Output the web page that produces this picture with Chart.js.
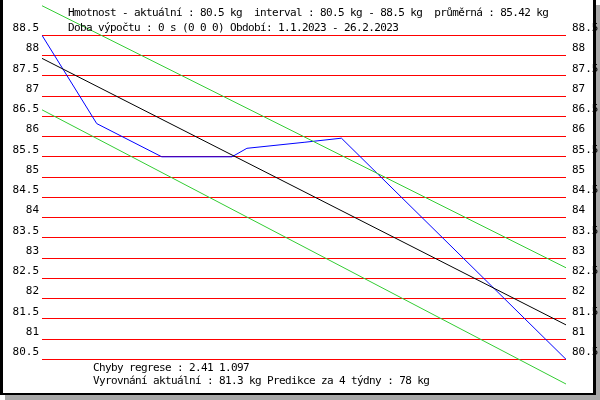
<!DOCTYPE html>
<html lang="cs">
<head>
  <meta charset="UTF-8">
  <title>Hmotnost</title>
  <script src="https://cdn.jsdelivr.net/npm/chart.js"></script>
  <style>
    body { margin: 0; background: #fff; }
    #wrap { position: relative; width: 600px; height: 400px; overflow: hidden; }
    #shadow { position: absolute; left: 5px; top: 5px; width: 595px; height: 395px; background: #a8a8a8; }
    #paper { position: absolute; left: 0; top: 0; width: 596px; height: 395px; background: #fff; }
    #frame {
      position: absolute; left: 0; top: 0; width: 596px; height: 395px; box-sizing: border-box;
      border-left: 3px solid #000; border-right: 3px solid #000; border-bottom: 2px solid #000;
      pointer-events: none;
    }
    canvas { position: absolute; left: 0; top: 0; }
    .txt {
      position: absolute; white-space: pre; color: #000;
      font: 11px 'DejaVu Sans Mono', monospace; letter-spacing: -0.62px; line-height: 13px;
    }
  </style>
</head>
<body>
  <div id="wrap">
    <div id="shadow"></div>
    <div id="paper"></div>
    <canvas id="chart" width="600" height="400"></canvas>
    <div id="frame"></div>
    <div class="txt" style="left:68px; top:6px">Hmotnost - aktuální : 80.5 kg  interval : 80.5 kg - 88.5 kg  průměrná : 85.42 kg</div>
    <div class="txt" style="left:68px; top:21px">Doba výpočtu : 0 s (0 0 0) Období: 1.1.2023 - 26.2.2023</div>
    <div class="txt" style="left:93px; top:361px">Chyby regrese : 2.41 1.097</div>
    <div class="txt" style="left:93px; top:374px">Vyrovnání aktuální : 81.3 kg Predikce za 4 týdny : 78 kg</div>
  </div>

  <script>
    // weight readings (day of period, kg)
    const days = [0, 5.85, 12.8, 20.3, 21.9, 28.1, 32, 56];
    const weights = [88.5, 86.32, 85.5, 85.5, 85.71, 85.86, 85.96, 80.5];

    // regression line and its error band
    const lineDays = [0, 56];
    const trend = [87.93, 81.35];
    const upperBand = [89.23, 82.76];
    const lowerBand = [86.66, 79.89];

    const yTicks = [80.5, 81, 81.5, 82, 82.5, 83, 83.5, 84, 84.5, 85, 85.5, 86, 86.5, 87, 87.5, 88, 88.5];

    const pts = (xs, ys) => xs.map((x, i) => ({ x: x, y: ys[i] }));
    const line = (data, color) => ({
      data: data, borderColor: color, borderWidth: 1, pointRadius: 0, tension: 0, fill: false
    });

    const yMin = 79.693, yMax = 89.2975;
    const tickFont = { family: 'DejaVu Sans Mono', size: 11 };

    function yAxis(pos, width, pad, showGrid) {
      return {
        position: pos,
        min: yMin,
        max: yMax,
        afterBuildTicks: s => { s.ticks = yTicks.map(v => ({ value: v })); },
        afterFit: s => { s.width = width; s.paddingTop = 0; s.paddingBottom = 0; },
        grid: { display: showGrid, color: '#ff0000', lineWidth: 1, drawTicks: false },
        border: { display: false },
        ticks: {
          autoSkip: false,
          color: '#000',
          font: tickFont,
          padding: pad,
          labelOffset: -7,
          callback: v => String(v)
        }
      };
    }

    new Chart(document.getElementById('chart'), {
      type: 'line',
      data: {
        datasets: [
          line(pts(lineDays, upperBand), '#33cc33'),
          line(pts(lineDays, lowerBand), '#33cc33'),
          line(pts(lineDays, trend), '#000000'),
          line(pts(days, weights), '#0000ff')
        ]
      },
      options: {
        responsive: false,
        animation: false,
        devicePixelRatio: 1,
        layout: { padding: { top: 3, bottom: 8, left: 0, right: 0 } },
        plugins: { legend: { display: false }, tooltip: { enabled: false } },
        scales: {
          x: { type: 'linear', min: 0, max: 56, display: false },
          y: yAxis('left', 42, 3, true),
          y2: yAxis('right', 34, 6, false)
        }
      }
    });
  </script>
</body>
</html>
